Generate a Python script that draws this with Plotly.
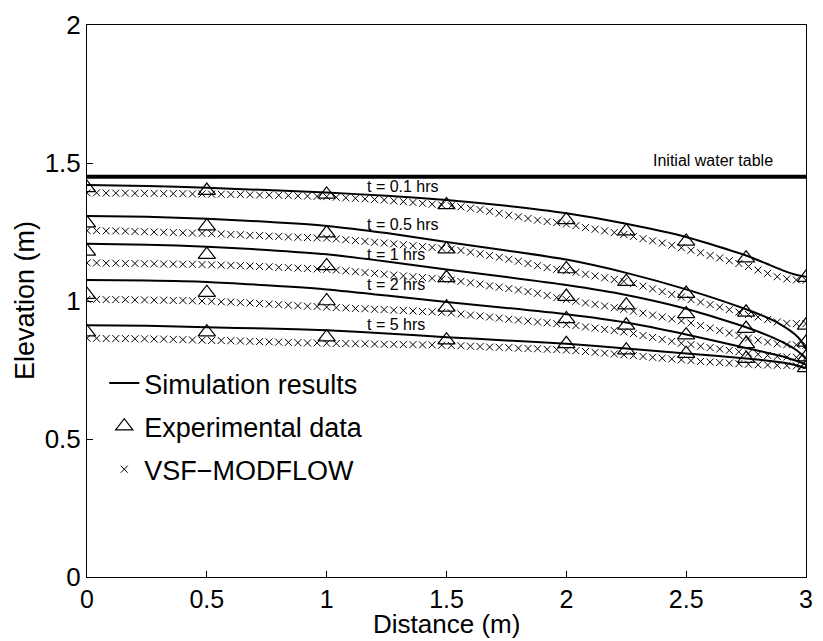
import numpy as np
import plotly.graph_objects as go

# ---------------- data ----------------
sim_x = [0, 0.25, 0.5, 0.75, 1.0, 1.25, 1.5, 1.75, 2.0, 2.25, 2.5, 2.75, 2.85, 2.9, 2.95, 2.98, 3.0]
sim_01 = [1.420, 1.417, 1.410, 1.402, 1.393, 1.381, 1.366, 1.345, 1.318, 1.280, 1.232, 1.165, 1.130, 1.112, 1.097, 1.091, 1.088]
sim_05 = [1.308, 1.305, 1.298, 1.287, 1.272, 1.246, 1.214, 1.183, 1.150, 1.102, 1.042, 0.970, 0.935, 0.912, 0.882, 0.855, 0.825]
sim_1 = [1.207, 1.204, 1.197, 1.185, 1.169, 1.143, 1.114, 1.087, 1.058, 1.022, 0.972, 0.905, 0.872, 0.852, 0.828, 0.808, 0.790]
sim_2 = [1.076, 1.074, 1.069, 1.057, 1.042, 1.020, 0.996, 0.975, 0.952, 0.922, 0.879, 0.830, 0.810, 0.800, 0.786, 0.777, 0.770]
sim_5 = [0.912, 0.910, 0.905, 0.900, 0.894, 0.882, 0.869, 0.857, 0.845, 0.828, 0.810, 0.792, 0.783, 0.777, 0.769, 0.762, 0.756]

exp_x = [0, 0.5, 1, 1.5, 2, 2.25, 2.5, 2.75, 3]
exp_01 = [1.410, 1.400, 1.386, 1.348, 1.294, 1.253, 1.216, 1.155, 1.085]
exp_05 = [1.282, 1.271, 1.246, 1.188, 1.116, 1.070, 1.027, 0.959, 0.912]
exp_1 = [1.180, 1.168, 1.127, 1.084, 1.016, 0.985, 0.953, 0.900, 0.850]
exp_2 = [1.023, 1.030, 1.000, 0.977, 0.935, 0.912, 0.876, 0.845, 0.797]
exp_5 = [0.887, 0.887, 0.869, 0.858, 0.845, 0.822, 0.809, 0.791, 0.758]

vsf_x = np.round(np.arange(0, 3.0001, 0.04), 2)
vsf_01 = [1.392, 1.392, 1.391, 1.391, 1.391, 1.390, 1.390, 1.390, 1.389, 1.389,
          1.389, 1.388, 1.388, 1.387, 1.387, 1.386, 1.386, 1.385, 1.384, 1.384,
          1.383, 1.382, 1.381, 1.380, 1.379, 1.378, 1.376, 1.374, 1.372, 1.370,
          1.368, 1.366, 1.363, 1.360, 1.357, 1.354, 1.351, 1.348, 1.345, 1.341,
          1.336, 1.331, 1.325, 1.318, 1.311, 1.305, 1.299, 1.293, 1.288, 1.284,
          1.279, 1.273, 1.266, 1.260, 1.254, 1.248, 1.241, 1.234, 1.226, 1.218,
          1.210, 1.202, 1.193, 1.184, 1.175, 1.165, 1.156, 1.146, 1.136, 1.125,
          1.112, 1.100, 1.088, 1.080, 1.076, 1.075]
vsf_05 = [1.255, 1.255, 1.254, 1.254, 1.253, 1.252, 1.251, 1.250, 1.249, 1.248,
          1.247, 1.246, 1.245, 1.244, 1.243, 1.241, 1.240, 1.238, 1.237, 1.235,
          1.234, 1.232, 1.231, 1.230, 1.229, 1.228, 1.225, 1.222, 1.219, 1.216,
          1.213, 1.210, 1.207, 1.204, 1.200, 1.197, 1.194, 1.191, 1.188, 1.183,
          1.177, 1.171, 1.165, 1.158, 1.151, 1.144, 1.136, 1.128, 1.121, 1.115,
          1.110, 1.104, 1.097, 1.091, 1.084, 1.078, 1.071, 1.063, 1.054, 1.044,
          1.034, 1.024, 1.014, 1.005, 0.996, 0.987, 0.978, 0.969, 0.960, 0.951,
          0.942, 0.933, 0.924, 0.919, 0.918, 0.918]
vsf_1 = [1.138, 1.138, 1.137, 1.137, 1.136, 1.136, 1.135, 1.135, 1.134, 1.134,
         1.133, 1.133, 1.132, 1.131, 1.130, 1.129, 1.128, 1.127, 1.125, 1.124,
         1.122, 1.121, 1.119, 1.118, 1.116, 1.115, 1.112, 1.109, 1.106, 1.103,
         1.100, 1.097, 1.094, 1.091, 1.088, 1.085, 1.082, 1.079, 1.076, 1.071,
         1.066, 1.061, 1.055, 1.050, 1.045, 1.040, 1.034, 1.028, 1.020, 1.012,
         1.005, 0.999, 0.993, 0.988, 0.982, 0.976, 0.970, 0.963, 0.956, 0.949,
         0.942, 0.935, 0.928, 0.920, 0.911, 0.902, 0.893, 0.884, 0.875, 0.866,
         0.858, 0.851, 0.845, 0.842, 0.841, 0.840]
vsf_2 = [1.006, 1.006, 1.005, 1.005, 1.005, 1.004, 1.004, 1.003, 1.003, 1.002,
         1.002, 1.001, 1.000, 0.999, 0.997, 0.996, 0.994, 0.993, 0.991, 0.989,
         0.987, 0.985, 0.983, 0.981, 0.980, 0.978, 0.976, 0.975, 0.973, 0.972,
         0.970, 0.969, 0.967, 0.966, 0.964, 0.962, 0.961, 0.959, 0.957, 0.953,
         0.949, 0.946, 0.942, 0.938, 0.934, 0.931, 0.927, 0.924, 0.921, 0.918,
         0.915, 0.911, 0.906, 0.902, 0.897, 0.893, 0.888, 0.882, 0.875, 0.868,
         0.861, 0.854, 0.847, 0.842, 0.836, 0.831, 0.826, 0.821, 0.816, 0.811,
         0.807, 0.803, 0.799, 0.797, 0.796, 0.795]
vsf_5 = [0.865, 0.865, 0.864, 0.864, 0.864, 0.863, 0.863, 0.862, 0.862, 0.861,
         0.860, 0.859, 0.858, 0.857, 0.857, 0.856, 0.855, 0.854, 0.853, 0.852,
         0.851, 0.850, 0.849, 0.848, 0.848, 0.847, 0.846, 0.846, 0.845, 0.845,
         0.844, 0.843, 0.843, 0.842, 0.842, 0.841, 0.841, 0.840, 0.839, 0.838,
         0.836, 0.835, 0.833, 0.832, 0.831, 0.829, 0.828, 0.827, 0.825, 0.824,
         0.822, 0.820, 0.817, 0.814, 0.811, 0.808, 0.805, 0.802, 0.799, 0.796,
         0.793, 0.790, 0.787, 0.784, 0.781, 0.779, 0.777, 0.775, 0.773, 0.771,
         0.769, 0.768, 0.767, 0.766, 0.765, 0.765]

wt_x = [0, 3]
wt_y = [1.45, 1.45]

time_labels = ["t = 0.1 hrs", "t = 0.5 hrs", "t = 1 hrs", "t = 2 hrs", "t = 5 hrs"]
time_label_y = [1.414, 1.276, 1.169, 1.058, 0.914]
time_label_x = 1.16

x_ticks = [0, 0.5, 1, 1.5, 2, 2.5, 3]
x_tick_text = ["0", "0.5", "1", "1.5", "2", "2.5", "3"]
y_ticks = [0, 0.5, 1, 1.5, 2]
y_tick_text = ["0", "0.5", "1", "1.5", "2"]

FONT = "Liberation Sans, Arial, Helvetica, sans-serif"

fig = go.Figure()

sims = [sim_01, sim_05, sim_1, sim_2, sim_5]
exps = [exp_01, exp_05, exp_1, exp_2, exp_5]
vsfs = [vsf_01, vsf_05, vsf_1, vsf_2, vsf_5]

# initial water table
fig.add_trace(go.Scatter(x=wt_x, y=wt_y, mode="lines",
                         line=dict(color="black", width=4), showlegend=False,
                         hoverinfo="skip"))

for i, s in enumerate(sims):
    fig.add_trace(go.Scatter(x=sim_x, y=s, mode="lines",
                             line=dict(color="black", width=2, shape="spline", smoothing=0.6),
                             name="Simulation results", legendgroup="sim",
                             showlegend=(i == 0), legendrank=1))
for i, e in enumerate(exps):
    fig.add_trace(go.Scatter(x=exp_x, y=e, mode="markers",
                             marker=dict(symbol="triangle-up-open", size=15, color="black",
                                         line=dict(width=1.2, color="black")),
                             name="Experimental data", legendgroup="exp",
                             showlegend=(i == 0), legendrank=2))
for i, v in enumerate(vsfs):
    fig.add_trace(go.Scatter(x=vsf_x, y=v, mode="markers",
                             marker=dict(symbol="x-thin-open", size=7, color="black",
                                         line=dict(width=1, color="black")),
                             name="VSF\u2212MODFLOW", legendgroup="vsf",
                             showlegend=(i == 0), legendrank=3))

annotations = []
for lab, yy in zip(time_labels, time_label_y):
    annotations.append(dict(x=time_label_x, y=yy, text=lab, showarrow=False,
                            xanchor="left", yanchor="middle",
                            font=dict(size=16, color="black", family=FONT)))
annotations.append(dict(x=2.61, y=1.51, text="Initial water table", showarrow=False,
                        xanchor="center", yanchor="middle",
                        font=dict(size=16, color="black", family=FONT)))
annotations.append(dict(x=0.5, y=0, xref="paper", yref="paper", text="Distance (m)",
                        showarrow=False, xanchor="center", yanchor="bottom", yshift=-64,
                        font=dict(size=26, color="black", family=FONT)))
annotations.append(dict(x=0, y=0.5, xref="paper", yref="paper", text="Elevation (m)",
                        showarrow=False, xanchor="center", yanchor="middle", xshift=-62,
                        textangle=-90,
                        font=dict(size=27, color="black", family=FONT)))

fig.update_layout(
    width=823, height=641,
    margin=dict(l=87, r=10, t=20, b=64),
    paper_bgcolor="white", plot_bgcolor="white",
    font=dict(family=FONT, size=25, color="black"),
    showlegend=True,
    legend=dict(x=0.024, y=0.395, xanchor="left", yanchor="top",
                bgcolor="rgba(0,0,0,0)", borderwidth=0,
                font=dict(size=27, family=FONT, color="black"),
                itemwidth=30, traceorder="grouped", tracegroupgap=5),
    annotations=annotations,
)
fig.update_xaxes(range=[0, 3], tickvals=x_ticks, ticktext=x_tick_text,
                 showline=True, mirror=True, linecolor="black", linewidth=1,
                 ticks="inside", ticklen=6, tickcolor="black",
                 showgrid=False, zeroline=False,
                 tickfont=dict(size=25, family=FONT, color="black"))
fig.update_yaxes(range=[0, 2], tickvals=y_ticks, ticktext=y_tick_text,
                 showline=True, mirror=True, linecolor="black", linewidth=1,
                 ticks="inside", ticklen=6, tickcolor="black",
                 showgrid=False, zeroline=False,
                 tickfont=dict(size=26, family=FONT, color="black"))

fig.write_html("out.html")
